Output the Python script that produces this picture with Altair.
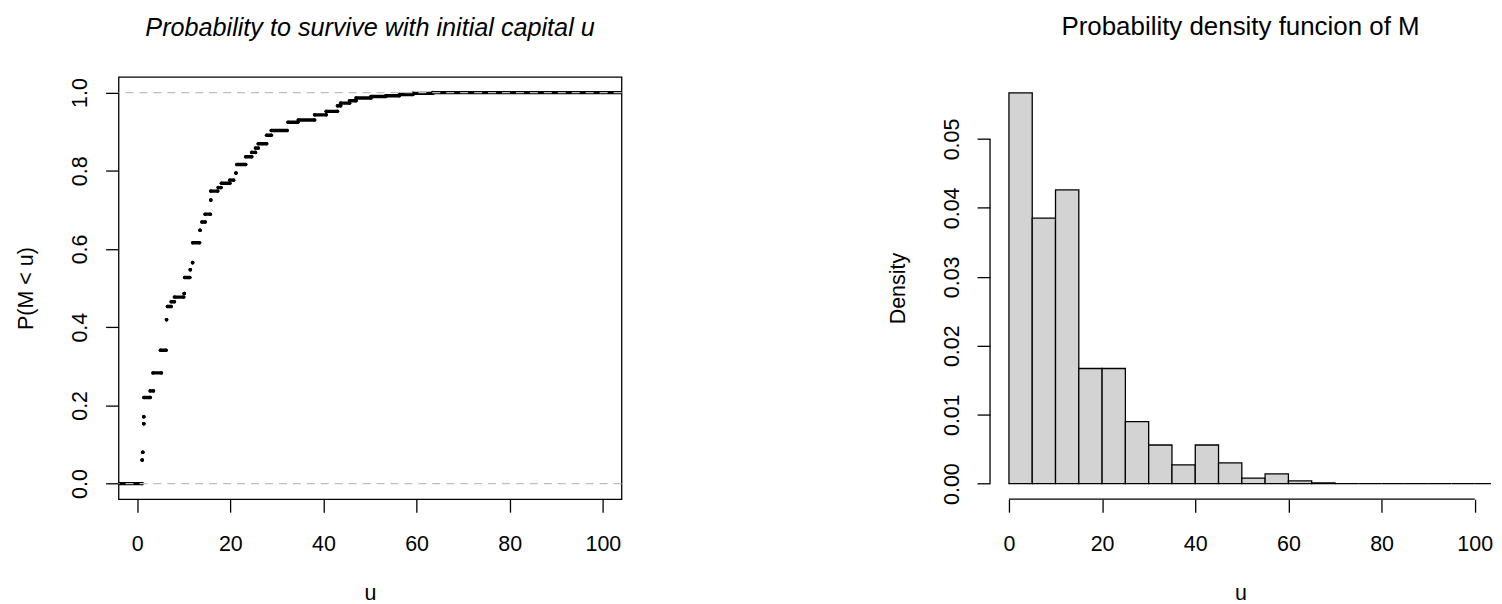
import altair as alt
import pandas as pd

FONT = "Liberation Sans"

seg_u_start = [-5.0, 1.07, 1.2, 1.42, 1.42, 1.45, 2.8, 3.4, 5.0, 6.3, 6.5, 7.3, 8.0, 10.1,
               10.2, 11.4, 11.9, 11.9, 13.5, 13.9, 14.6, 15.8, 15.8, 17.4, 18.1, 19.9, 21.2,
               21.4, 23.3, 24.6, 25.4, 26.0, 27.8, 28.8, 32.4, 34.6, 38.1, 40.6, 43.0, 43.7,
               45.6, 47.0, 50.2, 53.4, 56.3, 59.2, 63.5]
seg_u_end = [1.05, 1.07, 1.2, 1.42, 1.42, 2.8, 3.5, 5.2, 6.2, 6.3, 7.3, 8.0, 10.0, 10.1,
             11.3, 11.4, 11.9, 13.4, 13.5, 14.6, 15.7, 15.8, 17.3, 18.0, 19.9, 20.7, 21.2,
             23.3, 24.6, 25.4, 26.0, 27.8, 28.8, 32.2, 34.5, 38.1, 40.6, 43.0, 43.7, 45.6,
             47.0, 50.2, 53.4, 56.3, 59.2, 63.5, 106.0]
seg_p = [0.0, 0.060, 0.080, 0.153, 0.171, 0.220, 0.237, 0.283, 0.341, 0.419, 0.453, 0.465,
         0.477, 0.486, 0.527, 0.547, 0.565, 0.616, 0.648, 0.669, 0.689, 0.725, 0.748, 0.757,
         0.768, 0.776, 0.794, 0.816, 0.836, 0.847, 0.858, 0.869, 0.891, 0.903, 0.924, 0.930,
         0.943, 0.952, 0.966, 0.973, 0.979, 0.986, 0.990, 0.992, 0.995, 0.998, 1.0]

ref_levels = [0.0, 1.0]

# ---- right panel: histogram (density) of M, bins of width 5 ----
bin_start = [0, 5, 10, 15, 20, 25, 30, 35, 40, 45, 50, 55, 60, 65, 70, 75, 80, 85, 90, 95, 100]
bin_density = [0.0567, 0.0385, 0.0426, 0.0167, 0.0167, 0.0090, 0.0056, 0.0027, 0.0056, 0.0030,
               0.0008, 0.0014, 0.0004, 0.0001, 0.0, 0.0, 0.0, 0.0, 0.0, 0.0, 0.0]
bin_width = 5

x_ticks = [0, 20, 40, 60, 80, 100]
y_ticks_left = [0.0, 0.2, 0.4, 0.6, 0.8, 1.0]
y_ticks_right = [0.0, 0.01, 0.02, 0.03, 0.04, 0.05]

X_DOM_L = [-4, 104]
Y_DOM_L = [-0.04, 1.04]
X_DOM_R = [-4.06, 103.5]
Y_DOM_R = [-0.00227, 0.059]

seg_df = pd.DataFrame({"u0": seg_u_start, "u1": seg_u_end, "p": seg_p})
pts_df = pd.DataFrame({"u": seg_u_start + seg_u_end, "p": seg_p + seg_p})
ref_df = pd.DataFrame({"level": ref_levels})
hist_df = pd.DataFrame({"b0": bin_start,
                        "b1": [b + bin_width for b in bin_start],
                        "d": bin_density})

axis_common = dict(domain=False, ticks=True, tickSize=13, tickColor="black", tickWidth=1.3,
                   labelFont=FONT, labelFontSize=21.5, labelColor="black",
                   titleFont=FONT, titleFontSize=21.5, titleColor="black",
                   titleFontWeight="normal", grid=False)

def x_axis():
    return alt.Axis(values=x_ticks, title="u", labelPadding=38, labelBaseline="alphabetic",
                    labelFlush=False, titleY=101, titleBaseline="alphabetic", **axis_common)

def y_axis(vals, fmt, title):
    return alt.Axis(values=vals, format=fmt, title=title, labelAngle=270, labelAlign="center",
                    labelBaseline="alphabetic", labelPadding=19, labelFlush=False,
                    titleAngle=270, titleAlign="center", titleBaseline="alphabetic",
                    titleX=-86, titleY=212, **axis_common)

xs_l = alt.Scale(domain=X_DOM_L, nice=False, zero=False)
ys_l = alt.Scale(domain=Y_DOM_L, nice=False, zero=False)
xa_l = x_axis()
ya_l = y_axis(y_ticks_left, ".1f", "P(M < u)")

segs = alt.Chart(seg_df).mark_rule(color="black", strokeWidth=3.4, strokeCap="round", clip=True).encode(
    x=alt.X("u0:Q", scale=xs_l, axis=xa_l),
    x2="u1:Q",
    y=alt.Y("p:Q", scale=ys_l, axis=ya_l),
)
dots = alt.Chart(pts_df).mark_circle(color="black", size=13, opacity=1, clip=True).encode(
    x=alt.X("u:Q", scale=xs_l, axis=xa_l),
    y=alt.Y("p:Q", scale=ys_l, axis=ya_l),
)
refs = alt.Chart(ref_df).mark_rule(color="#BEBEBE", strokeWidth=1.3, strokeDash=[8, 6]).encode(
    y=alt.Y("level:Q", scale=ys_l, axis=ya_l),
)

left = alt.layer(segs, dots, refs).properties(
    width=505, height=424,
    title=alt.TitleParams("Probability to survive with initial capital u", anchor="middle",
                          frame="group", offset=16, baseline="alphabetic", font=FONT,
                          fontSize=25.3, fontStyle="italic", fontWeight="normal", color="black"),
    view=alt.ViewBackground(stroke="black", strokeWidth=1.3),
)

xs_r = alt.Scale(domain=X_DOM_R, nice=False, zero=False)
ys_r = alt.Scale(domain=Y_DOM_R, nice=False, zero=False)
xa_r = x_axis()
ya_r = y_axis(y_ticks_right, ".2f", "Density")

bars = alt.Chart(hist_df).mark_rect(fill="#D3D3D3", stroke="black", strokeWidth=1.3, clip=True).encode(
    x=alt.X("b0:Q", scale=xs_r, axis=xa_r),
    x2="b1:Q",
    y=alt.Y("d:Q", scale=ys_r, axis=ya_r),
    y2=alt.datum(0),
)
axis_src = pd.DataFrame({"k": [0]})
xline = alt.Chart(axis_src).mark_rule(color="black", strokeWidth=1.3).encode(
    x=alt.datum(x_ticks[0]), x2=alt.datum(x_ticks[-1]), y=alt.datum(Y_DOM_R[0]),
)
yline = alt.Chart(axis_src).mark_rule(color="black", strokeWidth=1.3).encode(
    x=alt.datum(X_DOM_R[0]), y=alt.datum(y_ticks_right[0]), y2=alt.datum(y_ticks_right[-1]),
)

right = alt.layer(bars, xline, yline).properties(
    width=503, height=424,
    title=alt.TitleParams("Probability density funcion of M", anchor="middle",
                          frame="group", offset=16, baseline="alphabetic", font=FONT,
                          fontSize=26, fontStyle="normal", fontWeight="normal", color="black"),
    view=alt.ViewBackground(stroke="transparent"),
)

chart = alt.hconcat(left, right, spacing=264).properties(
    padding={"left": 7, "top": 4, "right": 0, "bottom": 0},
    background="white",
)

chart.save("out.html", embed_options={"renderer": "svg", "actions": False})
